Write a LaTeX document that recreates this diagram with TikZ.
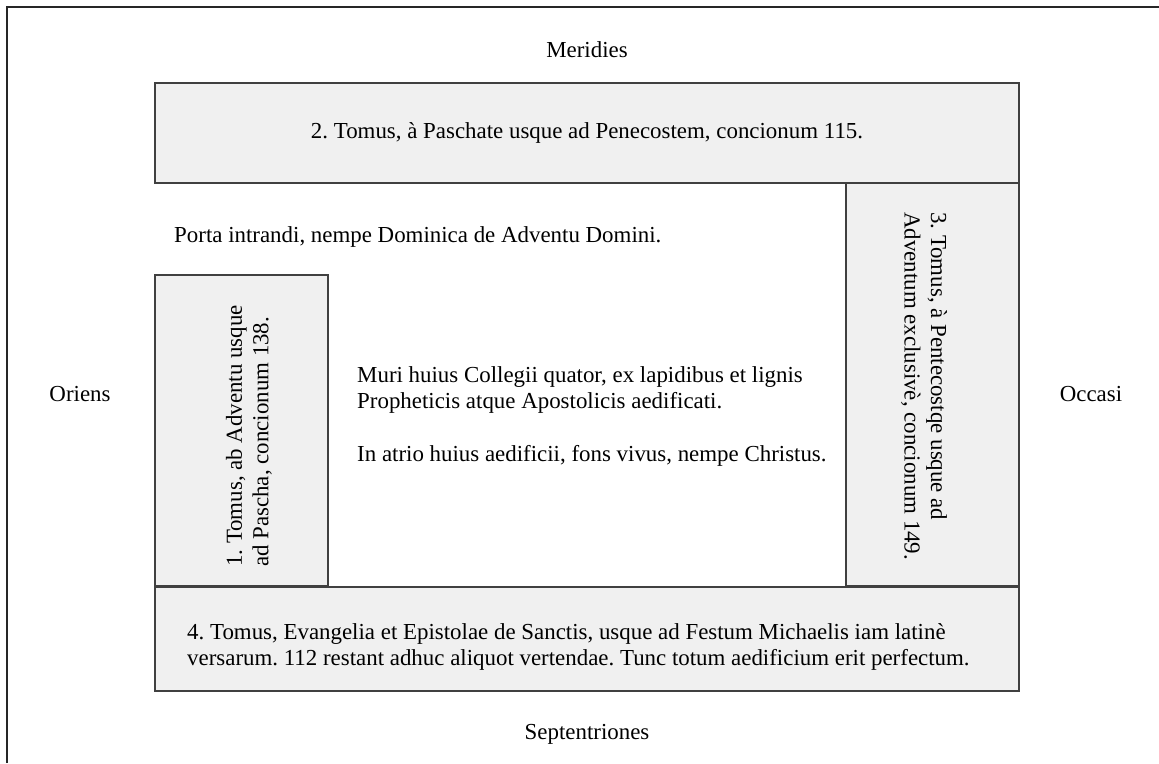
\documentclass[tikz,border=0pt]{standalone}
\usepackage{fontspec}
\setmainfont{Liberation Serif}
\frenchspacing
\begin{document}
\begin{tikzpicture}[x=1pt,y=-1pt,
  tomebox/.style={draw=black!75,line width=1.2pt,fill=black!6},
  lbl/.style={font=\fontsize{22.9}{26}\selectfont,inner sep=0pt},
  para/.style={font=\fontsize{22.9}{26.5}\selectfont,inner sep=0pt,align=left}]
\useasboundingbox (0,0) rectangle (1159,763);
\draw[black!85,line width=1.6pt] (7,763) -- (7,7) -- (1159,7);
% boxes
\path[tomebox] (155,83) rectangle (1019,183);
\path[tomebox] (846,183) rectangle (1019,586);
\path[tomebox] (155,275) rectangle (328,586);
\path[tomebox] (155,587) rectangle (1019,691);
\node (south) [lbl] at (587,50) {Meridies};
\node (north) [lbl] at (587,734) {Septentriones};
\node (east) [lbl] at (80,394) {Oriens};
\node (west) [lbl] at (1091,394) {Occasi};
\node (t2) [lbl] at (587,133) {2. Tomus, à Paschate usque ad Penecostem, concionum 115.};
\node (porta) [lbl,anchor=west] at (174,237) {Porta intrandi, nempe Dominica de Adventu Domini.};
\node (muri) [para,anchor=north west] at (357,366) {Muri huius Collegii quator, ex lapidibus et lignis\\Propheticis atque Apostolicis aedificati.\\[26pt]In atrio huius aedificii, fons vivus, nempe Christus.};
\node (t1) [para,rotate=90,anchor=west] at (249,567) {1. Tomus, ab Adventu usque\\ad Pascha, concionum 138.};
\node (t3) [para,rotate=-90,anchor=west] at (924,212) {3. Tomus, à Pentecostqe usque ad\\Adventum exclusivè, concionum 149.};
\node (t4) [para,anchor=west] at (187,647) {4. Tomus, Evangelia et Epistolae de Sanctis, usque ad Festum Michaelis iam latinè\\versarum. 112 restant adhuc aliquot vertendae. Tunc totum aedificium erit perfectum.};
\end{tikzpicture}
\end{document}
